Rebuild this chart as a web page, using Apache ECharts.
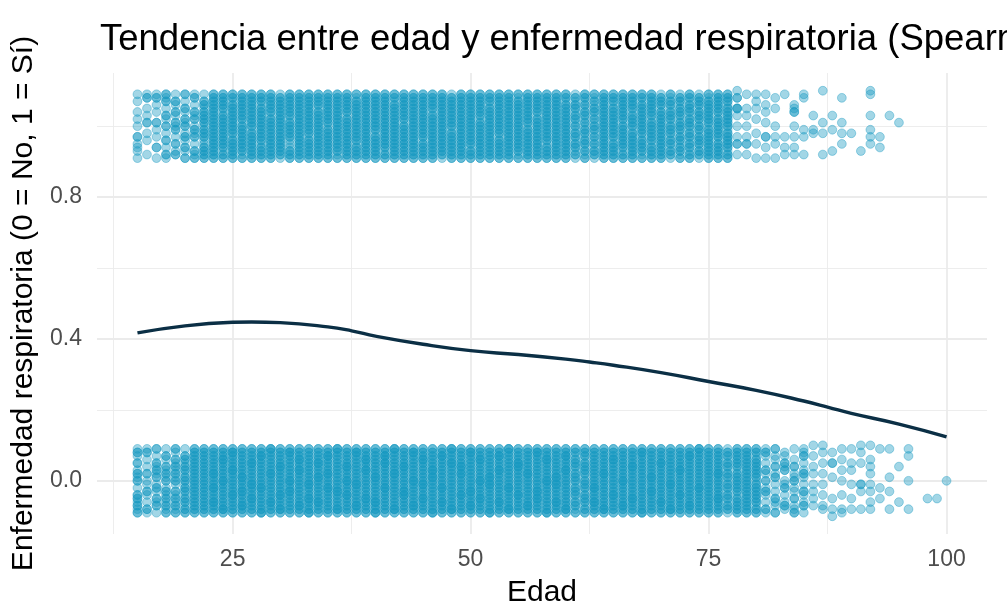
<!DOCTYPE html>
<html>
<head>
<meta charset="utf-8">
<script src="https://cdn.jsdelivr.net/npm/echarts@6/dist/echarts.min.js"></script>
<style>
  html, body { margin: 0; padding: 0; background: #ffffff; }
  #chart { width: 1007px; height: 604px; }
</style>
</head>
<body>
<div id="chart"></div>
<script>
// Jittered observations: one string per age, each character is a jitter
// offset around the 0/1 outcome ('j' = 0, each letter step = 0.01).
// An uppercase letter stands for two people at that same offset.
const FIRST_AGE = 15;

// Outcome = 1 (Sí), ages 15..95
const jitterSi = [
  // 15-19
  "acdeGjlnqs", "bfhKmoRs", "aDgiKnpRs", "aBdFhJlMoQrS", "BcEgIjKmNpQs",
  // 20-29
  "AcDfGhJkLnOqS", "AbCeGhIjLmNpRs", "ABCDefGHIjKLMNoPQs", "ABCDEFGHIJKLMNOPQRS",
  "ABcDEFGHIJKLMnOPQRS", "ABCDEFgHIJKLMNOPqRS", "AbCDEFGHIJkLMNOPQRS", "ABCDEFGHiJKLMNOPQRS",
  "ABCDeFGHIJKLMNOpQRS", "ABCDEFGHIJKLmNOPQRS",
  // 30-39
  "aBCDEFGHIJKLMNOPQRs", "ABCdefGHIJKlMNOPQRS", "ABCDEFGHIJKLMNOPQRS", "ABCDEFgHIJKLMNOPQRS",
  "ABCDEFGHIJKLMNoPQRS", "ABCDEFGHIjKLMNOPQRS", "AbCDEFGHIJKLMNOPQRS", "ABCDEFGHIJKLmNOPQRS",
  "ABCDeFGHIJKLMNOPQrS", "ABCDEFGHIJKLMNOPQRS",
  // 40-49
  "ABCDEFGhIJKLMNOPQRS", "ABcDEFGHIJKLMNOPQRS", "ABCDEFGHIJKLMNOPqRS", "ABCDEFGHIJkLMNOPQRS",
  "ABCDEFGHIJKLMNOPQRS", "ABCDEfGHIJKLMNOPQRS", "ABCDEFGHIJKLMnOPQRS", "aBCDEFGHIJKLMNOPQRS",
  "ABCDEFGHiJKLMNOPQRs", "ABCDEFGHIJKLMNOPQRS",
  // 50-59
  "ABCdEFGHIJKLMNOPQRS", "ABCDEFGHIJKlMNOPQRS", "ABCDEFGHIJKLMNOpQRS", "ABCDEFgHIJKLMNOPQRS",
  "ABCDEFGHIJKLMNOPQRS", "AbCDEFGHIJKLMNOPQrS", "ABCDEFGHIjKLMNOPQRS", "ABCDEFGHIJKLmNOPQRS",
  "ABCDeFGHIJKLMNOPQRS", "ABCDEFGHIJKLMNOPQRS",
  // 60-69
  "ABCDEFGHIJKLMNOPqRS", "aBcDEfGHiJkLMnOPqRs", "AbCdEFgHIjKlMNoPqRS", "aBCdEfGhIJkLmNOpQrS",
  "ABCDEFGHIJKLMNOPQRS", "ABCDEfGHIJKLMNOpQRS", "ABcDEFGHIJkLMNOPQRS", "ABCDEFGHiJKLMnOPQRS",
  "AbCDEFgHIJKLMNOPqRS", "ABCDeFGHIJKlMNOPQRS",
  // 70-79
  "ABCDEFGHIJKLMNoPQRs", "aBCdEFgHIJkLMNoPQrS", "AbCDeFGhIJKlMNOpQRs", "ABcDEfGHiJKLmNOPqRS",
  "aBCdEFGhIJkLMNoPQRs", "ABCDEFGHIjKLMNOPQrS", "ABCDEfGHIJKLmNOPQRS", "ABcDEFGHiJKLMNOpQRS",
  "tRoOmjgEb", "somjgeeb",
  // 80-89
  "sqolhea", "spnkggda", "rojgea", "sgdb", "ponnjgdb", "srigb", "mih", "tkhb", "mic", "rkhe",
  // 90-95
  "h", "c", "tsmige", "gd", "m", "k"
];

// Outcome = 0 (No), ages 15..100
const jitterNo = [
  // 15-19
  "AbCdEFhJkLmOqRs", "aBdfGijLnpRs", "aCdEgHiKlMnOqS", "AbCdEfGhJkLmNpQs", "AbCdEfGiJkLmNoPrS",
  // 20-29
  "ABcDEfGHiJKlMNoPQs", "ABCDEFGHIJKLMNOPQRS", "ABCDEFGHIJKLMNOPQRS",
  "ABCDEFGHIJKLMNOPQRSdhl", "ABCDEFGHIJKLMNOPQRSbjp", "ABCDEFGHIJKLMNOPQRSfmr",
  "ABCDEFGHIJKLMNOPQRScgk", "ABCDEFGHIJKLMNOPQRSeio", "ABCDEFGHIJKLMNOPQRSahq",
  "ABCDEFGHIJKLMNOPQRSdls",
  // 30-39
  "ABCDEFGHIJKLMNOPQRSbfn", "ABCDEFGHIJKLMNOPQRSgjr", "ABCDEFGHIJKLMNOPQRScmp",
  "ABCDEFGHIJKLMNOPQRSaei", "ABCDEFGHIJKLMNOPQRSdko", "ABCDEFGHIJKLMNOPQRShlq",
  "ABCDEFGHIJKLMNOPQRSbgs", "ABCDEFGHIJKLMNOPQRSfjn", "ABCDEFGHIJKLMNOPQRScir",
  "ABCDEFGHIJKLMNOPQRSemp",
  // 40-49
  "ABCDEFGHIJKLMNOPQRSadk", "ABCDEFGHIJKLMNOPQRShoq", "ABCDEFGHIJKLMNOPQRSbls",
  "ABCDEFGHIJKLMNOPQRSfgn", "ABCDEFGHIJKLMNOPQRScjr", "ABCDEFGHIJKLMNOPQRSeip",
  "ABCDEFGHIJKLMNOPQRSamk", "ABCDEFGHIJKLMNOPQRSdhq", "ABCDEFGHIJKLMNOPQRSbos",
  "ABCDEFGHIJKLMNOPQRSfln",
  // 50-59
  "ABCDEFGHIJKLMNOPQRScgr", "ABCDEFGHIJKLMNOPQRSejp", "ABCDEFGHIJKLMNOPQRSaik",
  "ABCDEFGHIJKLMNOPQRSdmq", "ABCDEFGHIJKLMNOPQRSbhs", "ABCDEFGHIJKLMNOPQRSfon",
  "ABCDEFGHIJKLMNOPQRScl", "ABCDEFGHIJKLMNOPQRSegr", "ABCDEFGHIJKLMNOPQRSajp",
  "ABCDEFGHIJKLMNOPQRSdik",
  // 60-69
  "ABCDEFGHIJKLMNOPQRSbmq", "AbCDeFGHiJKLmNOPqRS", "ABcDEFgHIJkLMNOpQRS",
  "ABCDEFGHIJKLMNOPQRSdh", "ABCDEFGHIJKLMNOPQRSbl", "ABCDEFGHIJKLMNOPQRSfp",
  "ABCDEFGHIJKLMNOPQRScj", "ABCDEFGHIJKLMNOPQRSen", "ABCDEFGHIJKLMNOPQRSar",
  "ABCDEFGHIJKLMNOPQRSgk",
  // 70-79
  "ABCDEFGHIJKLMNOPQRSdo", "ABCDEFGHIJKLMNOPQRSbi", "ABCDEFGHIJKLMNOPQRSfm",
  "ABCDEFGHIJKLMNOPQRScq", "ABCDEFGHIJKLMNOPQRShs", "ABCDEFGHIJKLMNOPQRS",
  "ABCDEFGHIJKLMNOPQRSel", "aBCdEFgHIjKLmNOpQRs", "ABCDEfGHIJKLmNOPQRS",
  "ABCDEFGHIJKLMNOPQRS",
  // 80-89
  "ABcDEFGHIjKLMNOPqRS", "aBdfGhJlMoqRs", "AcdEgiKlNpqS", "bCdfHijMnOqr", "AbcEghJklNps",
  "aCdfGikLmoQrs", "tqnligec", "trolifcb", "rookeb`", "spmjfba",
  // 90-99
  "somieb", "troiigb", "tpnligdb", "she", "skgb", "nd", "sqjb", "", "e", "e",
  // 100
  "j"
];

// Smoothed trend of the outcome against age
const trendAge   = [15, 20, 25, 27, 30, 35, 37.5, 40, 45, 50, 55, 60, 62.5, 65, 70, 75, 80, 85, 87.5, 90, 95, 100];
const trendValue = [0.417, 0.437, 0.447, 0.448, 0.446, 0.434, 0.423, 0.408, 0.385, 0.367, 0.356, 0.343, 0.335, 0.326, 0.305, 0.280, 0.255, 0.225, 0.208, 0.190, 0.160, 0.124];

// Axis ticks and grid positions
const xTicks = [25, 50, 75, 100];
const xMinor = [12.5, 37.5, 62.5, 87.5];
const yTicks = [0, 0.4, 0.8];
const yMinor = [0.2, 0.6, 1.0];

function toPoints(columns, outcome) {
  const pts = [];
  columns.forEach((s, i) => {
    for (const ch of s) {
      const low = ch.toLowerCase();
      const y = outcome + (low.charCodeAt(0) - 106) / 100;
      const n = ch === low ? 1 : 2;
      for (let k = 0; k < n; k++) pts.push([FIRST_AGE + i, y]);
    }
  });
  return pts;
}

const points = toPoints(jitterNo, 0).concat(toPoints(jitterSi, 1));
const trend = trendAge.map((a, i) => [a, trendValue[i]]);

const gridColor = '#ebebeb';
const gridLines = []
  .concat(xTicks.map(v => ({ xAxis: v, lineStyle: { width: 1.8 } })))
  .concat(xMinor.map(v => ({ xAxis: v, lineStyle: { width: 0.9 } })))
  .concat(yTicks.map(v => ({ yAxis: v, lineStyle: { width: 1.8 } })))
  .concat(yMinor.map(v => ({ yAxis: v, lineStyle: { width: 0.9 } })));

const font = '"Liberation Sans", Arial, Helvetica, sans-serif';
const chart = echarts.init(document.getElementById('chart'), null, { renderer: 'canvas' });

chart.setOption({
  animation: false,
  backgroundColor: '#ffffff',
  title: {
    text: 'Tendencia entre edad y enfermedad respiratoria (Spearman)',
    left: 95,
    top: 16,
    textStyle: { fontFamily: font, fontSize: 36.5, fontWeight: 'normal', color: '#000000' }
  },
  grid: {
    left: 97, right: 20, top: 73, bottom: 70,
    containLabel: false,
    outerBoundsMode: 'none'
  },
  xAxis: {
    type: 'value',
    min: 10.75,
    max: 104.25,
    name: 'Edad',
    nameLocation: 'middle',
    nameGap: 44,
    nameTextStyle: { fontFamily: font, fontSize: 30, color: '#000000' },
    axisLine: { show: false },
    axisTick: { show: false },
    splitLine: { show: false },
    axisLabel: {
      customValues: xTicks,
      margin: 14,
      fontFamily: font, fontSize: 23, color: '#4d4d4d',
      formatter: v => String(Math.round(v))
    }
  },
  yAxis: {
    type: 'value',
    min: -0.15,
    max: 1.15,
    name: 'Enfermedad respiratoria (0 = No, 1 = Sí)',
    nameLocation: 'middle',
    nameGap: 55,
    nameRotate: 90,
    nameTextStyle: { fontFamily: font, fontSize: 30, color: '#000000' },
    axisLine: { show: false },
    axisTick: { show: false },
    splitLine: { show: false },
    axisLabel: {
      customValues: yTicks,
      margin: 15,
      fontFamily: font, fontSize: 23, color: '#4d4d4d',
      formatter: v => v.toFixed(1)
    }
  },
  series: [
    {
      // panel grid lines, kept on the bottom layer
      type: 'line',
      data: [],
      silent: true,
      zlevel: 0,
      markLine: {
        silent: true,
        symbol: ['none', 'none'],
        label: { show: false },
        lineStyle: { color: gridColor, type: 'solid' },
        data: gridLines
      }
    },
    {
      type: 'scatter',
      data: points,
      symbol: 'circle',
      symbolSize: 8.8,
      large: false,
      progressive: 0,
      silent: true,
      zlevel: 1,
      z: 2,
      itemStyle: { color: '#1698c0', borderColor: '#1698c0', borderWidth: 1, opacity: 0.4 }
    },
    {
      type: 'line',
      data: trend,
      smooth: 0.5,
      symbol: 'none',
      silent: true,
      zlevel: 1,
      z: 3,
      lineStyle: { color: '#0b2f45', width: 3.4 }
    }
  ]
});
</script>
</body>
</html>
